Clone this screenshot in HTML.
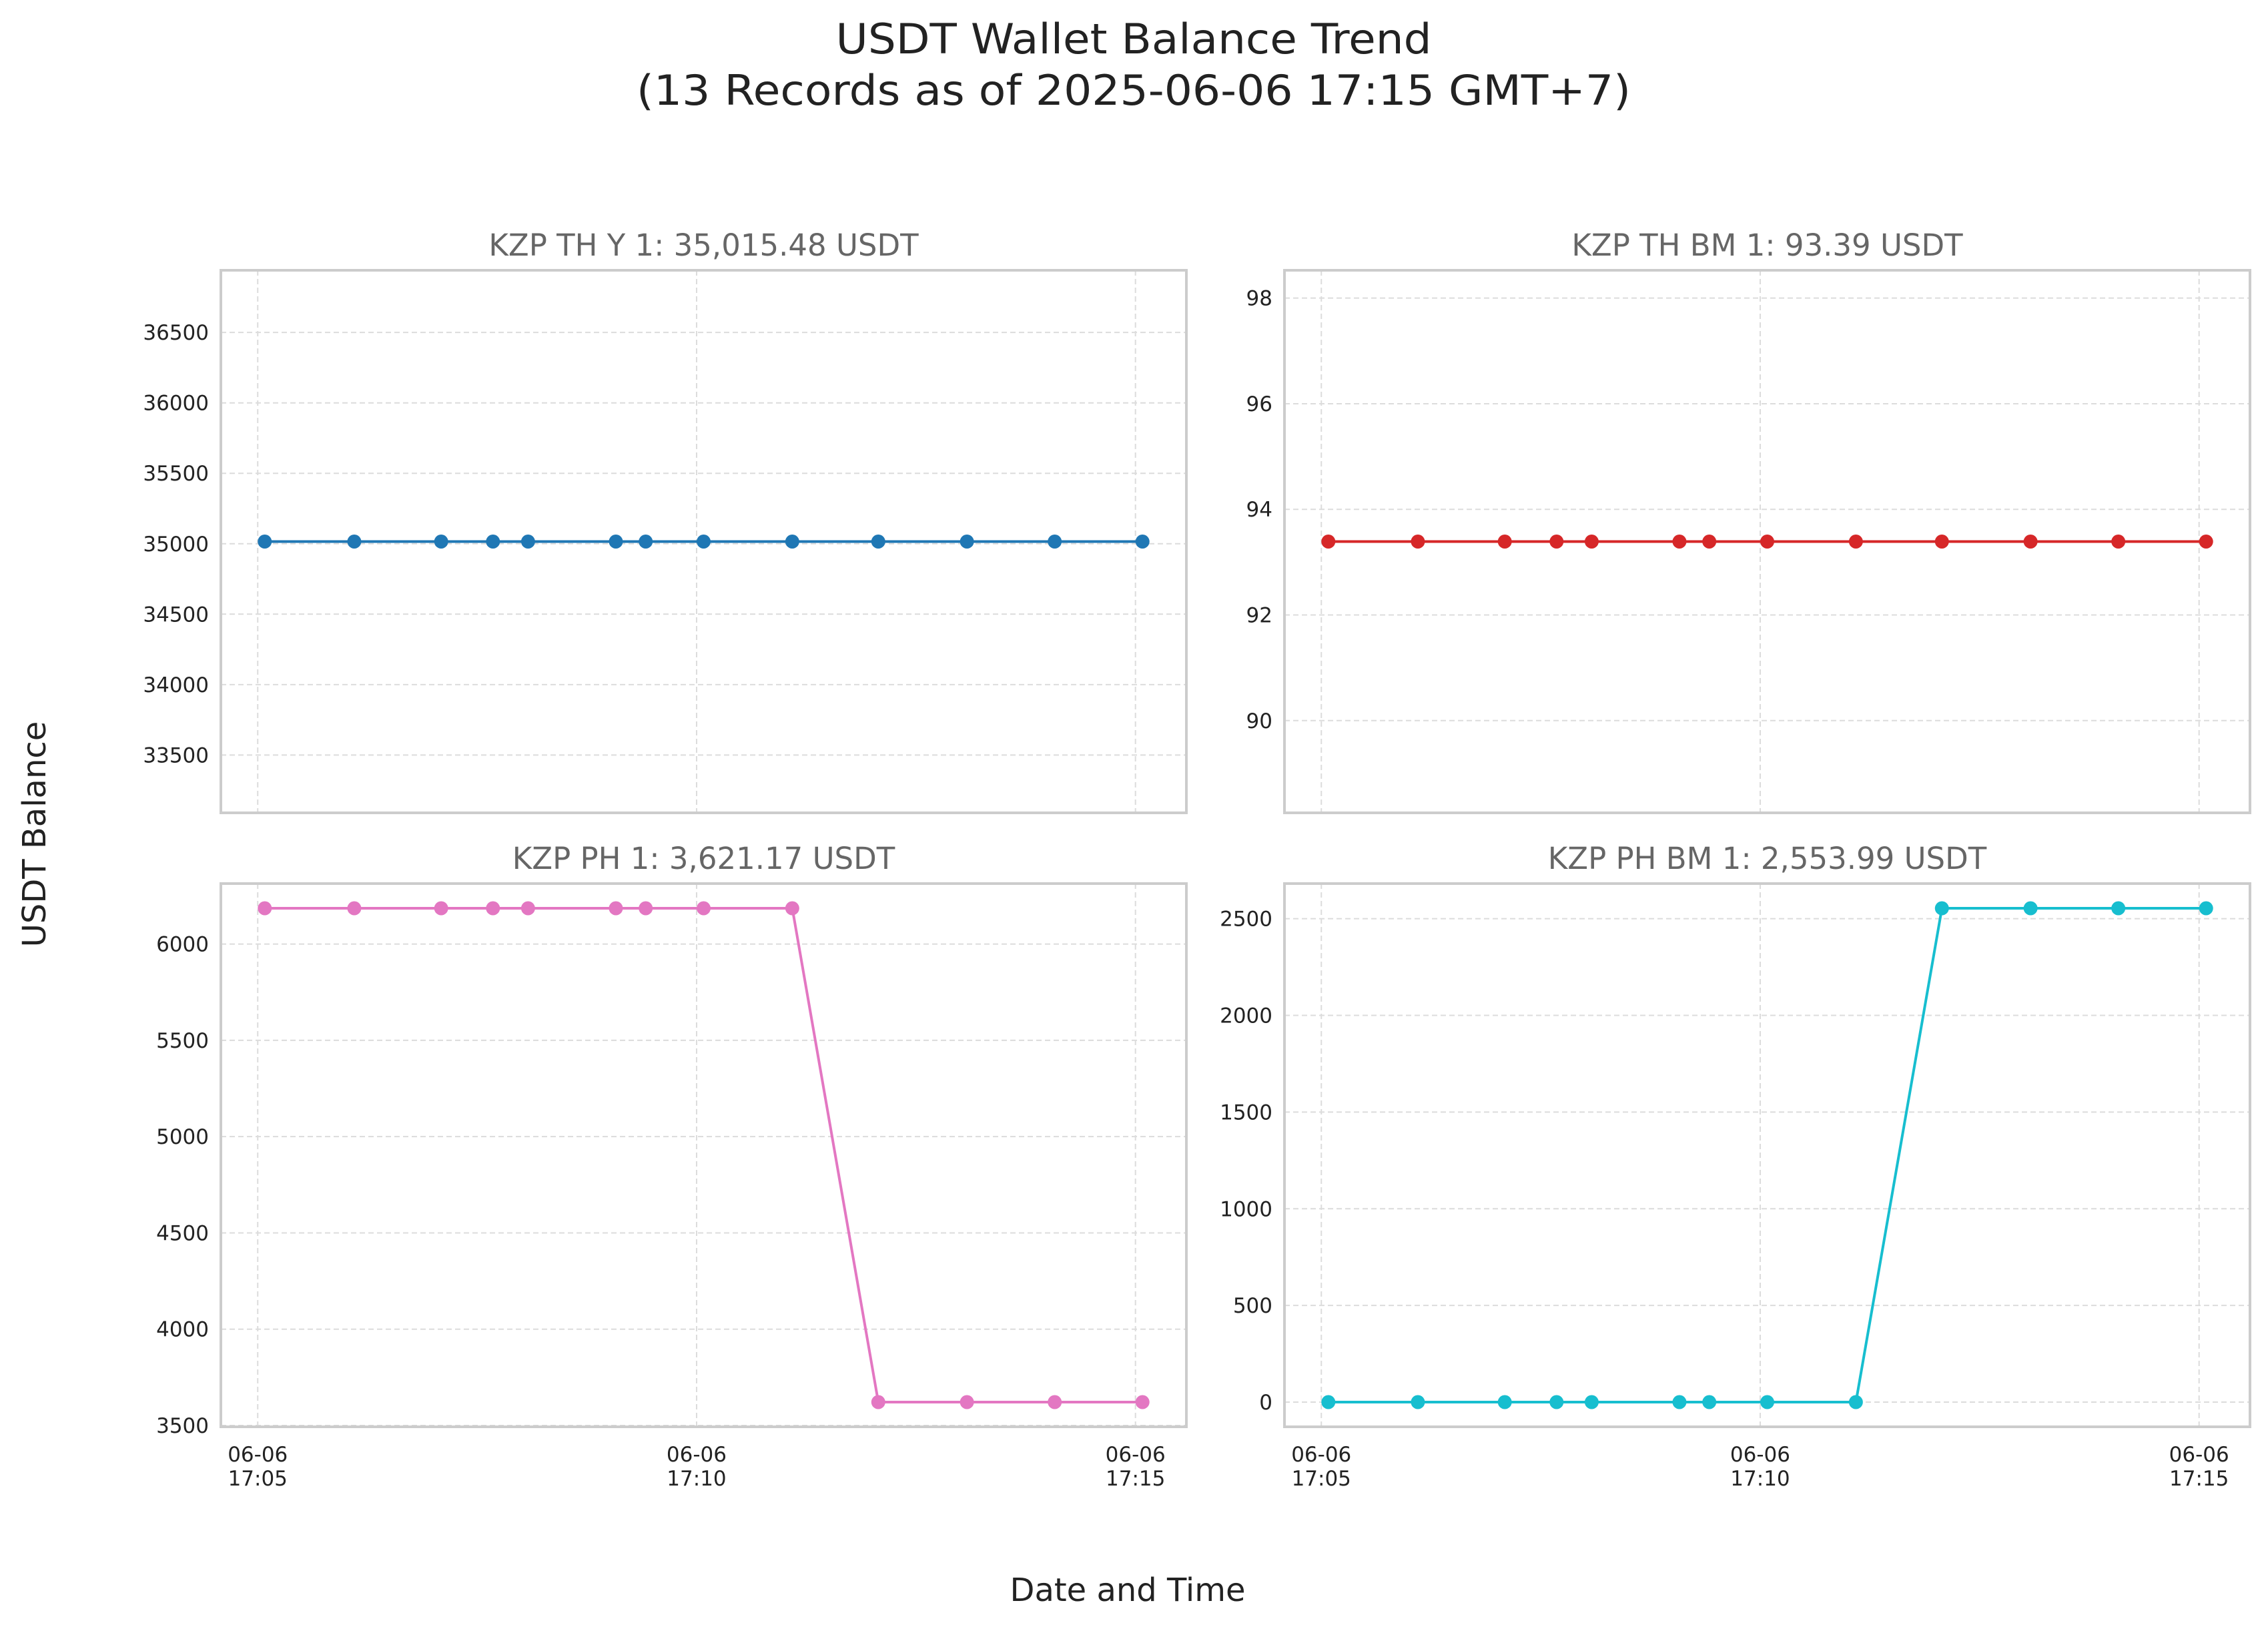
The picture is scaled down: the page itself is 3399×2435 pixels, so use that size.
<!DOCTYPE html>
<html><head><meta charset="utf-8"><style>
html,body{margin:0;padding:0;background:#fff}
svg{display:block;font-family:"DejaVu Sans","Liberation Sans",sans-serif}
</style></head><body>
<svg id="fig" width="3399" height="2435" viewBox="0 0 3399 2435" xmlns="http://www.w3.org/2000/svg">
<rect width="3399" height="2435" fill="#fff"/>
<text x="1699" y="80" font-size="62" fill="#222" text-anchor="middle" textLength="893" lengthAdjust="spacingAndGlyphs">USDT Wallet Balance Trend</text>
<text x="1699" y="157" font-size="62" fill="#222" text-anchor="middle" textLength="1490" lengthAdjust="spacingAndGlyphs">(13 Records as of 2025-06-06 17:15 GMT+7)</text>
<text x="1690" y="2399" font-size="48" fill="#222" text-anchor="middle">Date and Time</text>
<text x="0" y="0" font-size="48" fill="#222" text-anchor="middle" transform="translate(68,1250) rotate(-90)">USDT Balance</text>
<g id="panels"></g>
</svg>
<script>
// minutes after 17:05 for each of the 13 records
const times = [0.08,1.10,2.09,2.68,3.08,4.08,4.42,5.08,6.09,7.07,8.08,9.08,10.08];
const thY1 = [35015.48,35015.48,35015.48,35015.48,35015.48,35015.48,35015.48,35015.48,35015.48,35015.48,35015.48,35015.48,35015.48];
const thBM1 = [93.39,93.39,93.39,93.39,93.39,93.39,93.39,93.39,93.39,93.39,93.39,93.39,93.39];
const ph1 = [6186,6186,6186,6186,6186,6186,6186,6186,6186,3621.17,3621.17,3621.17,3621.17];
const phBM1 = [0,0,0,0,0,0,0,0,0,2553.99,2553.99,2553.99,2553.99];
const titles = ["KZP TH Y 1: 35,015.48 USDT","KZP TH BM 1: 93.39 USDT","KZP PH 1: 3,621.17 USDT","KZP PH BM 1: 2,553.99 USDT"];
const ticksTL = [33500,34000,34500,35000,35500,36000,36500];
const ticksTR = [90,92,94,96,98];
const ticksBL = [3500,4000,4500,5000,5500,6000];
const ticksBR = [0,500,1000,1500,2000,2500];
const xTickMins = [0,5,10];
const xTickLabels = ["17:05","17:10","17:15"];

const NS="http://www.w3.org/2000/svg";
const root=document.getElementById('panels');
function mk(tag,attrs,parent){const e=document.createElementNS(NS,tag);for(const k in attrs)e.setAttribute(k,attrs[k]);(parent||root).appendChild(e);return e;}

const panels=[
 {x0:331,x1:1778,y0:405,y1:1218,vals:thY1,ticks:ticksTL,color:"#1f77b4",title:titles[0],xlab:false,name:"kzp-th-y-1"},
 {x0:1925,x1:3372,y0:405,y1:1218,vals:thBM1,ticks:ticksTR,color:"#d62728",title:titles[1],xlab:false,name:"kzp-th-bm-1"},
 {x0:331,x1:1778,y0:1324,y1:2138,vals:ph1,ticks:ticksBL,color:"#e377c2",title:titles[2],xlab:true,name:"kzp-ph-1"},
 {x0:1925,x1:3372,y0:1324,y1:2138,vals:phBM1,ticks:ticksBR,color:"#17becf",title:titles[3],xlab:true,name:"kzp-ph-bm-1"}
];

panels.forEach(p=>{
  const g=mk('g',{});
  
  
  const tmin=Math.min(...times),tmax=Math.max(...times),tr=tmax-tmin;
  const xd0=tmin-0.05*tr,xd1=tmax+0.05*tr;
  const vmin=Math.min(...p.vals),vmax=Math.max(...p.vals);
  let yd0,yd1;
  if(vmax===vmin){yd0=vmin*0.945;yd1=vmax*1.055;}else{const r=vmax-vmin;yd0=vmin-0.05*r;yd1=vmax+0.05*r;}
  const X=t=>p.x0+(t-xd0)/(xd1-xd0)*(p.x1-p.x0);
  const Y=v=>p.y1-(v-yd0)/(yd1-yd0)*(p.y1-p.y0);
  xTickMins.forEach((m,i)=>{
    const l=mk('line',{x1:X(m),x2:X(m),y1:p.y0,y2:p.y1,stroke:"#dcdcdc","stroke-width":2,"stroke-dasharray":"8,5"},g);
    
    
    if(p.xlab){
      const t=mk('text',{x:X(m),y:p.y1+52,"font-size":31,fill:"#222","text-anchor":"middle"},g);
      
      
      const a=mk('tspan',{x:X(m),dy:0},t);a.textContent="06-06";
      const b=mk('tspan',{x:X(m),dy:36},t);b.textContent=xTickLabels[i];
    }
  });
  p.ticks.forEach(v=>{
    const y=Y(v);
    const l=mk('line',{x1:p.x0,x2:p.x1,y1:y,y2:y,stroke:"#dcdcdc","stroke-width":2,"stroke-dasharray":"8,5"},g);
    
    
    const t=mk('text',{x:p.x0-18,y:y+11,"font-size":31,fill:"#222","text-anchor":"end"},g);
    
    
    t.textContent=String(v);
  });
  const fr=mk('rect',{x:p.x0,y:p.y0,width:p.x1-p.x0,height:p.y1-p.y0,fill:"none",stroke:"#cccccc","stroke-width":4},g);
  
  
  const tt=mk('text',{x:(p.x0+p.x1)/2,y:p.y0-22,"font-size":45,fill:"#666","text-anchor":"middle"},g);
  
  
  tt.textContent=p.title;
  const pts=times.map((t,i)=>X(t).toFixed(1)+","+Y(p.vals[i]).toFixed(1)).join(" ");
  const pl=mk('polyline',{points:pts,fill:"none",stroke:p.color,"stroke-width":4},g);
  
  
  times.forEach((t,i)=>{
    const c=mk('circle',{cx:X(t),cy:Y(p.vals[i]),r:10.5,fill:p.color},g);
    
    
  });
});
</script>
</body></html>
